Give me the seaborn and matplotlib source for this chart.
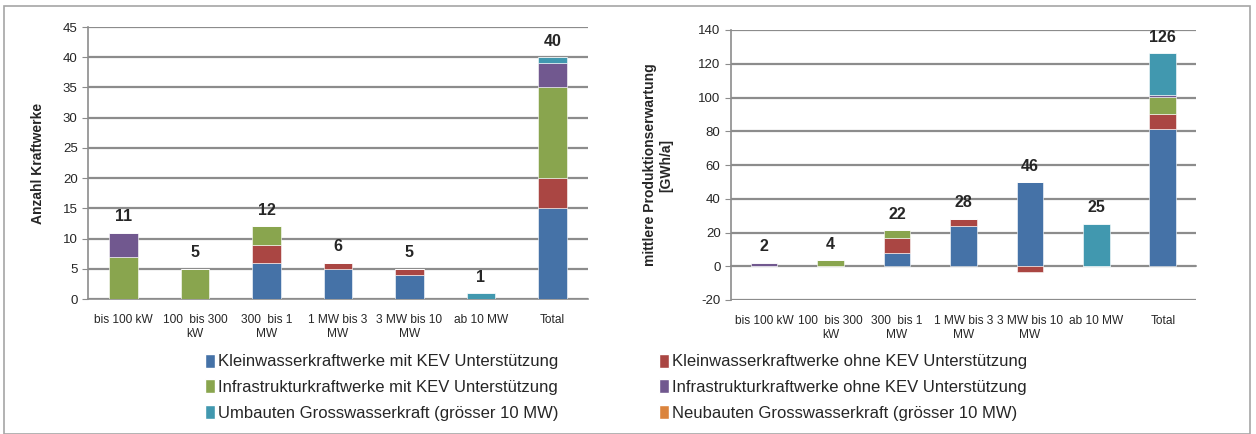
import numpy as np
import pandas as pd
import seaborn as sns
import matplotlib.pyplot as plt
from matplotlib.patches import Patch, Rectangle

categories = ["bis 100 kW", "100  bis 300\nkW", "300  bis 1\nMW", "1 MW bis 3\nMW",
              "3 MW bis 10\nMW", "ab 10 MW", "Total"]

series_names = ["Kleinwasserkraftwerke mit KEV Unterstützung",
                "Kleinwasserkraftwerke ohne KEV Unterstützung",
                "Infrastrukturkraftwerke mit KEV Unterstützung",
                "Infrastrukturkraftwerke ohne KEV Unterstützung",
                "Umbauten Grosswasserkraft (grösser 10 MW)",
                "Neubauten Grosswasserkraft (grösser 10 MW)"]
colors = ["#4572A7", "#AA4643", "#89A54E", "#71588F", "#4198AF", "#DB843D"]

# Anzahl Kraftwerke
count_klein_mit = [0, 0, 6, 5, 4, 0, 15]
count_klein_ohne = [0, 0, 3, 1, 1, 0, 5]
count_infra_mit = [7, 5, 3, 0, 0, 0, 15]
count_infra_ohne = [4, 0, 0, 0, 0, 0, 4]
count_umbau = [0, 0, 0, 0, 0, 1, 1]
count_neubau = [0, 0, 0, 0, 0, 0, 0]
count_labels = ["11", "5", "12", "6", "5", "1", "40"]

# mittlere Produktionserwartung [GWh/a]
prod_klein_mit = [0, 0, 7.9, 24.1, 49.9, 0, 81.5]
prod_klein_ohne = [0, 0, 8.7, 4.1, -3.7, 0, 8.6]
prod_infra_mit = [0, 3.5, 4.7, 0, 0, 0, 10.3]
prod_infra_ohne = [2.2, 0, 0, 0, 0, 0, 1.2]
prod_umbau = [0, 0, 0, 0, 0, 25.2, 24.8]
prod_neubau = [0, 0, 0, 0, 0, 0, 0]
prod_labels = ["2", "4", "22", "28", "46", "25", "126"]

count_series = [count_klein_mit, count_klein_ohne, count_infra_mit,
                count_infra_ohne, count_umbau, count_neubau]
prod_series = [prod_klein_mit, prod_klein_ohne, prod_infra_mit,
               prod_infra_ohne, prod_umbau, prod_neubau]

sns.set_style("white")
plt.rcParams['font.family'] = ['Liberation Sans', 'DejaVu Sans']
plt.rcParams['axes.unicode_minus'] = False
grid_col = "#8C8C8C"

fig = plt.figure(figsize=(12.56, 4.34), dpi=100)
ax1 = fig.add_axes([88 / 1256, 1 - 299 / 434, (588 - 88) / 1256, (299 - 27) / 434])
ax2 = fig.add_axes([731 / 1256, 1 - 300 / 434, (1196 - 731) / 1256, (300 - 30) / 434])


def stacked(ax, series, labels, ylim, step, ylabel, xpad):
    pos_bottom = np.zeros(len(categories))
    neg_bottom = np.zeros(len(categories))
    for name, vals, col in zip(series_names, series, colors):
        vals = np.array(vals, dtype=float)
        bottom = np.where(vals >= 0, pos_bottom, neg_bottom)
        df = pd.DataFrame({"cat": categories, "val": vals})
        sns.barplot(data=df, x="cat", y="val", color=col, bottom=bottom,
                    width=0.4, errorbar=None, ax=ax, saturation=1,
                    edgecolor="white", linewidth=0.4, zorder=3)
        pos_bottom = pos_bottom + np.clip(vals, 0, None)
        neg_bottom = neg_bottom + np.clip(vals, None, 0)
    for i, lab in enumerate(labels):
        ax.annotate(lab, (i, pos_bottom[i]), xytext=(0, 6), textcoords="offset points",
                    ha="center", va="bottom", fontsize=11.5, fontweight="bold")
    ax.set_ylim(*ylim)
    ax.set_xlim(-0.5, len(categories) - 0.5)
    ax.set_yticks(np.arange(ylim[0], ylim[1] + 1, step))
    ax.yaxis.grid(True, color=grid_col, lw=1.6, zorder=0)
    ax.set_axisbelow(True)
    for s in ["top", "right"]:
        ax.spines[s].set_visible(False)
    ax.spines["left"].set_color(grid_col)
    ax.spines["bottom"].set_color(grid_col)
    ax.spines["left"].set_linewidth(1.2)
    ax.spines["bottom"].set_linewidth(1.2)
    ax.spines["bottom"].set_position(("data", 0))
    ax.set_xticks(np.arange(-0.5, len(categories)), minor=True)
    ax.tick_params(axis="x", which="major", length=0, labelsize=8.6, pad=xpad)
    ax.tick_params(axis="x", which="minor", length=4, color=grid_col, direction="out")
    ax.tick_params(axis="y", length=4, color=grid_col, direction="out", labelsize=9.5, left=True)
    ax.set_xlabel("")
    ax.set_ylabel(ylabel, fontsize=10, fontweight="bold")


stacked(ax1, count_series, count_labels, (0, 45), 5, "Anzahl Kraftwerke", 11)
stacked(ax2, prod_series, prod_labels, (-20, 140), 20, "mittlere Produktionserwartung\n[GWh/a]", 35)
ax1.yaxis.set_label_coords(-0.085, 0.5)
ax2.yaxis.set_label_coords(-0.125, 0.5)

order = [0, 2, 4, 1, 3, 5]
handles = [Patch(facecolor=colors[i], label=series_names[i]) for i in order]
fig.legend(handles=handles, loc="upper left", bbox_to_anchor=(198 / 1256, 1 - 347 / 434),
           ncol=2, frameon=False, fontsize=12, handlelength=0.6, handleheight=0.9,
           handletextpad=0.2, columnspacing=6.0, labelspacing=0.6, borderaxespad=0)

fig.patches.append(Rectangle((4 / 1256, 0), 1246 / 1256, 1 - 6 / 434, transform=fig.transFigure,
                             fill=False, edgecolor="#A6A6A6", lw=1.2))

fig.savefig("out.png", dpi=100)
